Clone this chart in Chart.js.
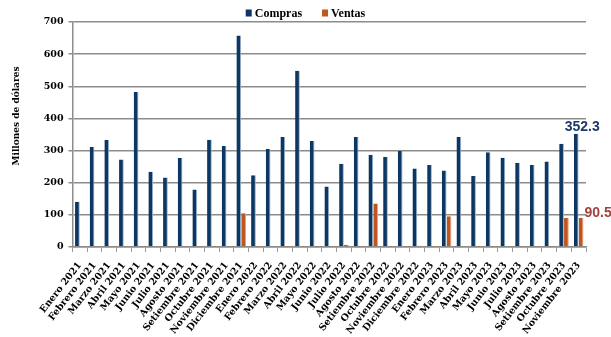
<!DOCTYPE html>
<html>
<head>
<meta charset="utf-8">
<script src="https://cdn.jsdelivr.net/npm/chart.js@4.4.0/dist/chart.umd.min.js"></script>
<style>
  html, body { margin: 0; padding: 0; background: #ffffff; }
  #wrap { width: 611px; height: 337px; position: relative; }
</style>
</head>
<body>
<div id="wrap"><canvas id="c" width="611" height="337"></canvas></div>
<script>
// Monthly purchases and sales, millions of dollars
const categories = [
  'Enero 2021', 'Febrero 2021', 'Marzo 2021', 'Abril 2021', 'Mayo 2021', 'Junio 2021',
  'Julio 2021', 'Agosto 2021', 'Setiembre 2021', 'Octubre 2021', 'Noviembre 2021', 'Diciembre 2021',
  'Enero 2022', 'Febrero 2022', 'Marzo 2022', 'Abril 2022', 'Mayo 2022', 'Junio 2022',
  'Julio 2022', 'Agosto 2022', 'Setiembre 2022', 'Octubre 2022', 'Noviembre 2022', 'Diciembre 2022',
  'Enero 2023', 'Febrero 2023', 'Marzo 2023', 'Abril 2023', 'Mayo 2023', 'Junio 2023',
  'Julio 2023', 'Agosto 2023', 'Setiembre 2023', 'Octubre 2023', 'Noviembre 2023'
];
const compras = [
  141, 311, 333, 272, 482, 234, 216, 277, 179, 334, 314, 658,
  223, 305, 342, 548, 330, 188, 259, 342, 287, 280, 299, 244,
  255, 238, 342, 221, 295, 278, 262, 255, 266, 321, 352.3
];
const ventas = [
  2, 2, 3, 2, 2, 2, 1, 2, 2, 4, 3, 105,
  1, 2, 1, 2, 1, 1, 6, 1, 135, 2, 3, 4,
  1, 96, 2, 1, 1, 2, 1, 1, 1, 90, 90.5
];
const yTickValues = [0, 100, 200, 300, 400, 500, 600, 700];
const seriesNames = ['Compras', 'Ventas'];
const seriesColors = ['#0c3763', '#c0561f'];
const seriesEdges = ['#9db3cd', '#e8a078'];
const valueLabelColors = ['#1b3a6b', '#a3423d'];
const yTitle = 'Millones de dólares';

const serif = '"DejaVu Serif", serif';

// Legend drawn as a centred row across the top of the canvas
const topLegend = {
  id: 'topLegend',
  afterDraw(chart) {
    const ctx = chart.ctx;
    ctx.save();
    ctx.font = 'bold 12px "Liberation Serif", serif';
    ctx.textBaseline = 'alphabetic';
    ctx.textAlign = 'left';
    const box = 6, gapBox = 3, gapItem = 20;
    const items = chart.data.datasets.map(ds => ({
      text: ds.label, color: ds.backgroundColor, w: ctx.measureText(ds.label).width
    }));
    let total = 0;
    items.forEach((it, i) => { total += box + gapBox + it.w + (i ? gapItem : 0); });
    let x = (chart.width - total) / 2;
    items.forEach((it, i) => {
      if (i) x += gapItem;
      ctx.fillStyle = it.color;
      ctx.fillRect(x, 9.5, box, 7);
      x += box + gapBox;
      ctx.fillStyle = '#000000';
      ctx.fillText(it.text, x, 17);
      x += it.w;
    });
    ctx.restore();
  }
};

// Vertical axis title
const axisTitle = {
  id: 'axisTitle',
  afterDraw(chart) {
    const ctx = chart.ctx;
    ctx.save();
    ctx.translate(17, 116);
    ctx.rotate(-Math.PI / 2);
    ctx.font = 'bold 9px ' + serif;
    ctx.fillStyle = '#000000';
    ctx.textAlign = 'center';
    ctx.textBaseline = 'middle';
    ctx.fillText(yTitle, 0, 0);
    ctx.restore();
  }
};

// Value labels on the latest month of each series
const lastValues = {
  id: 'lastValues',
  afterDatasetsDraw(chart) {
    const ctx = chart.ctx;
    ctx.save();
    ctx.font = 'bold 14px "Liberation Sans", Arial, sans-serif';
    chart.data.datasets.forEach((ds, i) => {
      const meta = chart.getDatasetMeta(i);
      const n = ds.data.length - 1;
      const bar = meta.data[n];
      const text = String(ds.data[n]);
      ctx.fillStyle = valueLabelColors[i];
      ctx.textBaseline = 'alphabetic';
      if (i === 0) {
        ctx.textAlign = 'center';
        ctx.fillText(text, bar.x + 6, bar.y - 3);
      } else {
        ctx.textAlign = 'left';
        ctx.fillText(text, bar.x + bar.width / 2 + 1, bar.y - 1);
      }
    });
    ctx.restore();
  }
};

new Chart(document.getElementById('c'), {
  type: 'bar',
  data: {
    labels: categories,
    datasets: [
      {
        label: seriesNames[0], data: compras,
        backgroundColor: seriesColors[0], borderColor: seriesEdges[0],
        borderWidth: { top: 0, right: 1, bottom: 0, left: 0 }, borderSkipped: false,
        categoryPercentage: 0.66, barPercentage: 0.98
      },
      {
        label: seriesNames[1], data: ventas,
        backgroundColor: seriesColors[1], borderColor: seriesEdges[1],
        borderWidth: { top: 0, right: 1, bottom: 0, left: 0 }, borderSkipped: false,
        categoryPercentage: 0.66, barPercentage: 0.98
      }
    ]
  },
  options: {
    responsive: false,
    animation: false,
    layout: { padding: { top: 22, right: 25, left: 0, bottom: 0 } },
    plugins: {
      legend: { display: false },
      tooltip: { enabled: false }
    },
    scales: {
      x: {
        offset: true,
        grid: { display: true, offset: true, drawOnChartArea: false, drawTicks: true, tickLength: 5, color: '#9a9a9a', lineWidth: 1 },
        border: { display: true, color: '#8c8c8c', width: 1.5 },
        ticks: {
          autoSkip: false, minRotation: 52, maxRotation: 52, padding: 8,
          color: '#000000',
          font: { family: serif, size: 9.5, weight: 'bold' }
        },
        afterFit(scale) { scale.height = 90; }
      },
      y: {
        min: 0, max: 700,
        afterBuildTicks(scale) { scale.ticks = yTickValues.map(v => ({ value: v })); },
        grid: { color: '#8c8c8c', lineWidth: 1.5, drawTicks: true, tickLength: 4 },
        border: { display: true, color: '#8c8c8c', width: 1.5 },
        ticks: {
          padding: 5, color: '#000000',
          font: { family: serif, size: 9.5, weight: 'bold' }
        },
        title: { display: false },
        afterFit(scale) { scale.width = 72.5; }
      }
    }
  },
  plugins: [topLegend, axisTitle, lastValues]
});
</script>
</body>
</html>
